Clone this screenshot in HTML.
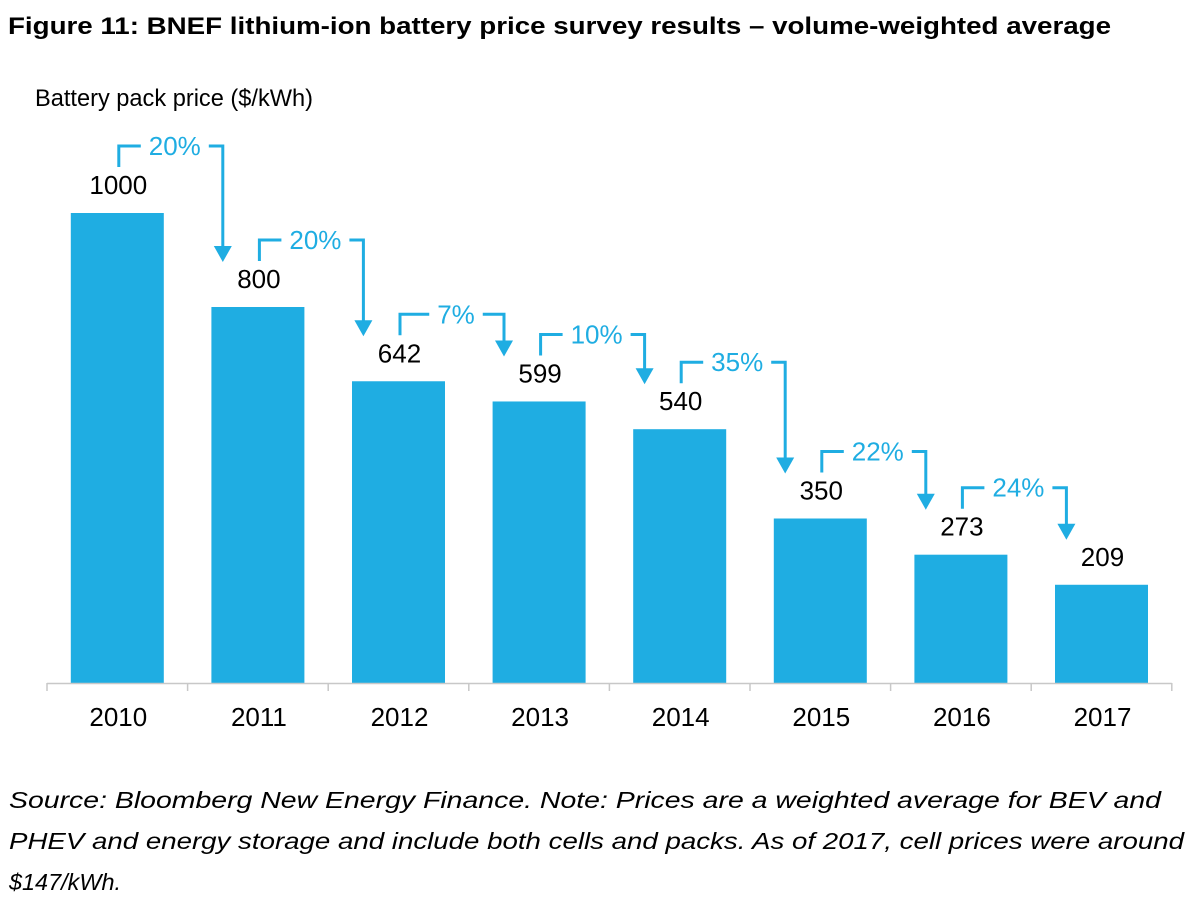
<!DOCTYPE html>
<html><head><meta charset="utf-8"><style>
html,body{margin:0;padding:0;background:#fff;}
svg{display:block;font-family:"Liberation Sans",Arial,sans-serif;}
</style></head><body>
<svg id="chart" width="1200" height="904" viewBox="0 0 1200 904">
<text x="8" y="34" font-size="24" font-weight="bold" fill="#000" textLength="1103" lengthAdjust="spacingAndGlyphs">Figure 11: BNEF lithium-ion battery price survey results – volume-weighted average</text>
<text x="35" y="106" font-size="24" fill="#000" textLength="278" lengthAdjust="spacingAndGlyphs">Battery pack price ($/kWh)</text>
<g id="plot"></g>
<g font-size="23.5" font-style="italic" fill="#000">
<text x="9" y="808" textLength="1152" lengthAdjust="spacingAndGlyphs">Source: Bloomberg New Energy Finance. Note: Prices are a weighted average for BEV and</text>
<text x="9" y="849" textLength="1175" lengthAdjust="spacingAndGlyphs">PHEV and energy storage and include both cells and packs. As of 2017, cell prices were around</text>
<text x="9" y="890" textLength="112" lengthAdjust="spacingAndGlyphs">$147/kWh.</text>
</g>
</svg>
<script>
const years = ["2010","2011","2012","2013","2014","2015","2016","2017"];
const prices = [1000,800,642,599,540,350,273,209];
const changes = ["20%","20%","7%","10%","35%","22%","24%"];

const NS="http://www.w3.org/2000/svg";
const plot=document.getElementById('plot');
const x0=47, step=140.6, baseY=683, scale=0.47, barW=93, blue="#1fade2";
const xC=i=>x0+step*(i+0.5);
const yV=v=>baseY-v*scale;
function mk(tag,attrs){const e=document.createElementNS(NS,tag);for(const k in attrs)e.setAttribute(k,attrs[k]);plot.appendChild(e);return e;}

years.forEach((yr,i)=>{
  const r=mk('rect',{x:xC(i)-barW/2,y:yV(prices[i]),width:barW,height:prices[i]*scale,fill:blue});
  
  
  const t=mk('text',{x:xC(i)+1,y:yV(prices[i])-19,'font-size':26,'text-anchor':'middle',fill:'#000'});
  t.textContent=prices[i];
  
  
  const yl=mk('text',{x:xC(i)+1,y:726,'font-size':26,'text-anchor':'middle',fill:'#000'});
  yl.textContent=yr;
  
  
});
const ax=mk('line',{x1:x0,y1:baseY+0.5,x2:x0+step*years.length,y2:baseY+0.5,stroke:'#c8c8c8','stroke-width':1.5});


for(let i=0;i<=years.length;i++){
  const tk=mk('line',{x1:x0+step*i,y1:baseY,x2:x0+step*i,y2:baseY+8,stroke:'#c8c8c8','stroke-width':1.5});
  
  
}
changes.forEach((c,i)=>{
  const lx=xC(i)+1.5, rx=xC(i)+105.5;
  const by=yV(prices[i])-67;
  const tip=yV(prices[i+1])-45;
  const mid=(lx+rx)/2+4;
  const txt=mk('text',{x:mid,y:by+9,'font-size':26,'text-anchor':'middle',fill:blue});
  txt.textContent=c;
  
  
  const w=(c.length-1)*14.5+23;
  const p=mk('path',{d:`M${lx},${by+21} V${by} H${Math.max(lx+6,mid-w/2-8)} M${mid+w/2+8},${by} H${rx} V${tip-15}`,fill:'none',stroke:blue,'stroke-width':3});
  
  
  const h=mk('polygon',{points:`${rx-9},${tip-16} ${rx+9},${tip-16} ${rx},${tip}`,fill:blue});
  
  
});
</script>
</body></html>
